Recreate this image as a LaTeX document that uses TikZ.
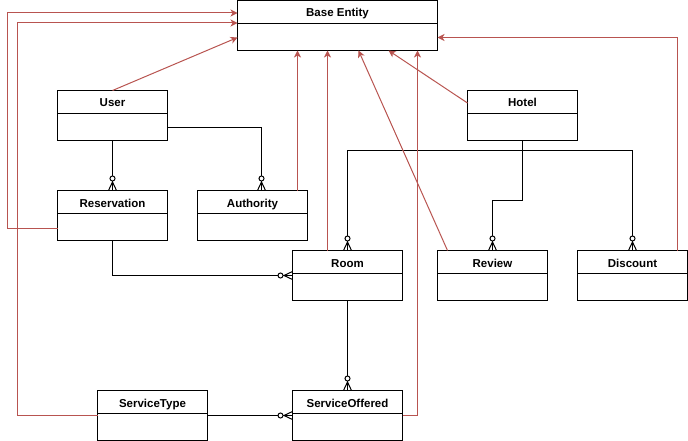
\documentclass[tikz,border=0pt]{standalone}
\usepackage{fontspec}
\setmainfont{Liberation Sans}
\usetikzlibrary{arrows.meta,decorations.markings}
\definecolor{inh}{HTML}{B85450}
\tikzset{
  cls/.style={draw, line width=1pt, fill=white, minimum height=50pt, inner sep=0pt, outer sep=0pt, anchor=north west},
  ttl/.style={font=\bfseries\fontsize{11.5}{13}\selectfont, inner sep=0pt, anchor=base},
  rel/.style={draw, line width=1pt, black},
  zm/.style={postaction={decorate}, decoration={markings, mark=at position 1 with {
      \draw[line width=1pt, fill=white] (-12pt,0) circle (2.5pt);
      \draw[line width=1pt] (-8.5pt,0) -- (0,4pt);
      \draw[line width=1pt] (-8.5pt,0) -- (0,-4pt);}}},
  isa/.style={draw, line width=1pt, inh, -{Stealth[length=7pt,width=7pt,inset=2pt]}}
}
\newcommand{\umlbox}[5]{%
  \node[cls, minimum width=#4] (#1) at (#2,#3) {};
  \draw[line width=1pt] ([yshift=-23pt]#1.north west) -- ([yshift=-23pt]#1.north east);
  \node[ttl] (#1-t) at ([yshift=-16.5pt]#1.north) {#5};
}
\begin{document}
\begin{tikzpicture}[x=1pt,y=-1pt]
\useasboundingbox (0,0) rectangle (688,441);
% classes
\umlbox{base}{237.5}{0.5}{200pt}{Base Entity}
\umlbox{user}{57.5}{90.5}{110pt}{User}
\umlbox{hotel}{467.5}{90.5}{110pt}{Hotel}
\umlbox{reservation}{57.5}{190.5}{110pt}{Reservation}
\umlbox{authority}{197.5}{190.5}{110pt}{Authority}
\umlbox{room}{292.5}{250.5}{110pt}{Room}
\umlbox{review}{437.5}{250.5}{110pt}{Review}
\umlbox{discount}{577.5}{250.5}{110pt}{Discount}
\umlbox{servicetype}{97.5}{390.5}{110pt}{ServiceType}
\umlbox{serviceoffered}{292.5}{390.5}{110pt}{ServiceOffered}
% relations (zero or many)
\draw[rel, zm] (user.south) -- (reservation.north);
\coordinate (authin) at ([xshift=9pt]authority.north);
\draw[rel, zm] ([yshift=-12pt]user.east) -| (authin);
\draw[rel, zm] (reservation.south) |- (room.west);
\draw[rel, zm] (hotel.south) -- ++(0,10) -| (room.north);
\draw[rel, zm] (hotel.south) -- ++(0,10) -| (discount.north);
\draw[rel, zm] (hotel.south) -- ++(0,60) -| (review.north);
\draw[rel, zm] (room.south) -- (serviceoffered.north);
\draw[rel, zm] (servicetype.east) -- (serviceoffered.west);
% inheritance
\draw[isa] ([yshift=-12.5pt]reservation.west) -- ++(-50,0) |- ([yshift=-12.5pt]base.north west);
\draw[isa] (servicetype.west) -- ++(-80,0) |- ([yshift=-22.5pt]base.north west);
\draw[isa] (user.north) -- ([yshift=-12pt]base.west);
\coordinate (authup) at ([xshift=45pt]authority.north);
\draw[isa] (authup) -- (authup |- base.south);
\coordinate (roomup) at ([xshift=-20pt]room.north);
\draw[isa] (roomup) -- (roomup |- base.south);
\draw[isa] ([xshift=-45pt]review.north) -- ([xshift=21pt]base.south);
\draw[isa] ([yshift=12.5pt]hotel.west) -- ([xshift=51pt]base.south);
\coordinate (soup) at ([xshift=15pt]serviceoffered.east);
\draw[isa] (serviceoffered.east) -- (soup) -- (soup |- base.south);
\coordinate (discup) at ([xshift=45pt]discount.north);
\draw[isa] (discup) |- ([yshift=-12pt]base.east);
\end{tikzpicture}
\end{document}
